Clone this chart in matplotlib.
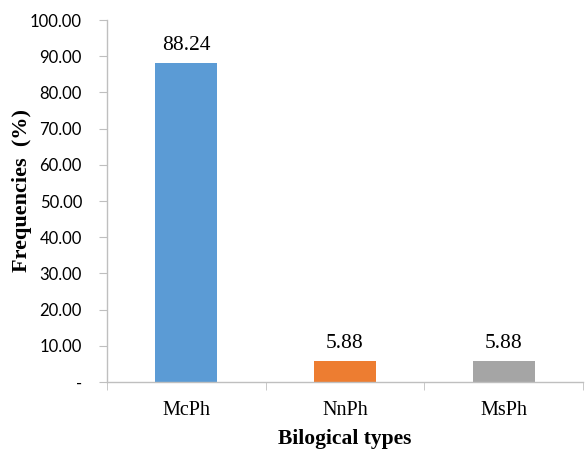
import matplotlib
matplotlib.use("Agg")
import matplotlib.pyplot as plt
import numpy as np

categories = ["McPh", "NnPh", "MsPh"]
values = [88.24, 5.88, 5.88]
colors = ["#5B9BD5", "#ED7D31", "#A5A5A5"]
yticks = [0, 10, 20, 30, 40, 50, 60, 70, 80, 90, 100]

fig = plt.figure(figsize=(5.87, 4.5), dpi=100)
ax = fig.add_axes([107/587, 1-382/450, (583-107)/587, (382-20)/450])

x = np.arange(len(categories))
bars = ax.bar(x, values, width=0.39, color=colors, zorder=2)
for xi, v in zip(x, values):
    ax.text(xi, v + 2.2, f"{v:.2f}", ha="center", va="bottom",
            fontsize=15.5, family="Liberation Serif")

ax.set_xlim(-0.5, len(categories) - 0.5)
ax.set_ylim(0, 100)
ax.set_yticks(yticks)
ax.set_yticklabels(["-" if t == 0 else f"{t:.2f}" for t in yticks],
                   family="Lato", fontsize=12)
ax.set_xticks(x)
ax.set_xticklabels(categories, family="Liberation Serif", fontsize=14.5)
ax.set_xticks(np.arange(len(categories) + 1) - 0.5, minor=True)
ax.tick_params(axis="x", which="major", length=0, pad=14)
ax.tick_params(axis="x", which="minor", length=6, color="#BFBFBF", direction="out")
ax.tick_params(axis="y", length=6, color="#BFBFBF", direction="out", pad=12)

for s in ["top", "right"]:
    ax.spines[s].set_visible(False)
for s in ["left", "bottom"]:
    ax.spines[s].set_color("#BFBFBF")
    ax.spines[s].set_linewidth(1.0)

ax.set_xlabel("Bilogical types", family="Liberation Serif", fontsize=15.5,
              fontweight="bold", labelpad=6)
fig.text(22/587, 1 - 190/450, "Frequencies  (%)", family="Liberation Serif",
         fontsize=16, fontweight="bold", rotation=90, ha="center", va="center")

fig.savefig("out.png", dpi=100)
